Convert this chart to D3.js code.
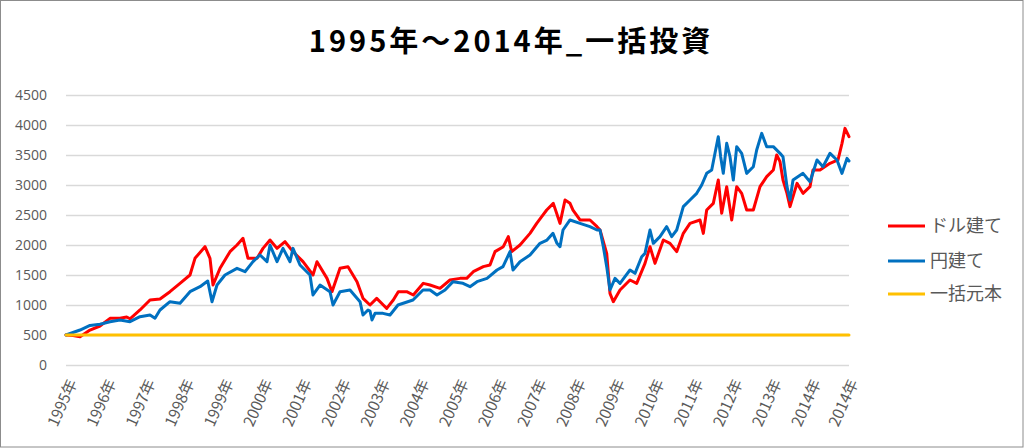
<!DOCTYPE html>
<html><head><meta charset="utf-8">
<script src="https://cdn.jsdelivr.net/npm/d3@7"></script>
<style>
html,body{margin:0;padding:0;background:#fff;}
svg{display:block;}
text{font-family:"Noto Sans CJK JP","Noto Sans",sans-serif;}
</style></head>
<body>
<svg id="chart" width="1024" height="448"></svg>
<script>
// ---- data (years elapsed since Jan 1995, value) ----
const titleText = "1995年～2014年_一括投資";
const seriesNames = ["ドル建て", "円建て", "一括元本"];
const seriesColors = ["#FF0000", "#0070C0", "#FFC000"];
const yTicks = [0, 500, 1000, 1500, 2000, 2500, 3000, 3500, 4000, 4500];
const xTickLabels = ["1995年","1996年","1997年","1998年","1999年","2000年","2001年","2002年","2003年","2004年","2005年","2006年","2007年","2008年","2009年","2010年","2011年","2012年","2013年","2014年","2014年"];
const xTickAt = [0,1,2,3,4,5,6,7,8,9,10,11,12,13,14,15,16,17,18,19,19.95];

const usdT = [0,0.18,0.358,0.613,0.868,1.124,1.379,1.55,1.635,1.89,2.146,2.401,2.656,2.912,3.167,3.295,3.55,3.678,3.755,3.934,4.189,4.368,4.521,4.649,4.879,5.032,5.211,5.39,5.594,5.798,6.054,6.309,6.411,6.667,6.794,6.999,7.203,7.433,7.586,7.765,
  7.936,8.105,8.192,8.36,8.488,8.702,8.871,9.127,9.298,9.553,9.808,10.064,10.235,10.403,10.659,10.83,10.958,11.17,11.298,11.384,11.596,11.852,12.023,12.151,12.278,12.447,12.618,12.746,12.874,
  12.95,13.129,13.384,13.563,13.64,13.811,13.895,13.98,14.151,14.406,14.577,14.789,14.917,15.045,15.257,15.428,15.599,15.768,15.939,16.194,16.279,16.365,16.534,16.661,16.748,16.876,17.004,17.132,17.259,17.387,17.556,17.727,17.898,18.067,18.153,18.238,
  18.314,18.416,18.493,18.672,18.825,19.004,19.08,19.259,19.515,19.719,19.821,19.898,20];
const usdV = [500,490,470,583,650,778,778,800,770,917,1083,1100,1222,1361,1500,1778,1972,1778,1333,1611,1889,2000,2111,1778,1778,1944,2083,1944,2055,1889,1722,1500,1722,1444,1222,1611,1639,1389,1111,1000,
  1111,1000,944,1083,1222,1222,1167,1361,1333,1278,1417,1444,1444,1555,1639,1667,1889,1972,2139,1889,2000,2194,2361,2472,2583,2694,2361,2750,2694,
  2583,2417,2417,2305,2250,1861,1194,1055,1250,1417,1361,1694,1972,1694,2083,2028,1889,2194,2361,2417,2194,2583,2694,3083,2528,2972,2417,2972,2861,2583,2583,2972,3139,3250,3500,3389,
  3083,2861,2639,3028,2861,2972,3250,3250,3361,3417,3694,3944,3805];

const jpyT = [0,0.358,0.613,0.868,1.124,1.379,1.635,1.89,2.146,2.273,2.401,2.656,2.912,3.167,3.423,3.62,3.729,3.857,4.061,4.368,4.572,4.776,4.955,5.134,5.211,5.39,5.543,5.722,5.798,5.977,6.232,6.309,6.488,6.743,6.82,6.999,7.254,7.51,7.586,7.714,7.765,7.816,7.893,
  8.097,8.276,8.48,8.863,9.119,9.298,9.476,9.681,9.885,10.14,10.319,10.498,10.754,11.009,11.162,11.341,11.418,11.596,11.852,12.107,12.286,12.439,12.541,12.618,12.695,12.874,
  13.129,13.384,13.563,13.64,13.725,13.811,13.895,14.023,14.151,14.278,14.406,14.534,14.705,14.789,14.917,15.002,15.172,15.343,15.471,15.599,15.768,15.939,16.11,16.238,16.365,16.493,16.577,16.661,16.722,16.789,16.876,16.96,17.045,17.132,17.259,17.387,17.556,17.642,17.77,17.898,18.067,18.238,
  18.314,18.416,18.493,18.57,18.825,19.004,19.183,19.336,19.515,19.693,19.821,19.949,20];
const jpyV = [500,583,660,680,722,750,722,805,833,780,917,1055,1028,1222,1305,1400,1055,1333,1500,1611,1555,1722,1833,1722,2000,1722,1944,1722,1944,1667,1500,1167,1333,1222,1000,1222,1250,1055,833,917,900,750,861,
  861,833,1000,1083,1250,1250,1167,1250,1389,1361,1305,1389,1444,1583,1639,1889,1583,1722,1833,2028,2083,2194,2028,1972,2250,2417,
  2361,2305,2250,2250,1972,1639,1250,1444,1361,1472,1583,1528,1805,1861,2250,2028,2139,2305,2139,2250,2639,2750,2861,3000,3194,3250,3528,3805,3472,3194,3694,3472,3083,3639,3528,3194,3305,3583,3861,3639,3639,3528,
  3472,2972,2750,3083,3194,3055,3417,3305,3528,3417,3194,3444,3400];

const principalT = [0, 20];
const principalV = [500, 500];

// ---- drawing ----
const svg = d3.select("#chart");
const W = 1024, H = 448;
const plot = {left: 66, right: 849, top: 95, bottom: 365};

svg.append("rect").attr("x", 0.5).attr("y", 0.5).attr("width", W - 1.5).attr("height", H - 1.5)
  .attr("fill", "#fff").attr("stroke", "#8c8c8c").attr("stroke-width", 1);

const x = d3.scaleLinear().domain([0, 20]).range([plot.left, plot.right]);
const y = d3.scaleLinear().domain([0, 4500]).range([plot.bottom, plot.top]);

// gridlines + y axis labels
const yAxis = d3.axisLeft(y).tickValues(yTicks).tickFormat(d3.format("d"))
  .tickSize(-(plot.right - plot.left)).tickPadding(19);
const gy = svg.append("g").attr("transform", `translate(${plot.left},0)`).call(yAxis);
gy.select(".domain").remove();
gy.selectAll(".tick line").attr("stroke", "#d9d9d9").attr("stroke-width", 1.3);
gy.selectAll(".tick text").attr("fill", "#595959").style("font-size", "14px")
  .style("font-family", "'Open Sans','Noto Sans',sans-serif");

// x axis labels (rotated)
const xAxis = d3.axisBottom(x).tickValues(xTickAt).tickSize(0).tickFormat((d, i) => xTickLabels[i]);
const gx = svg.append("g").attr("transform", `translate(0,${plot.bottom})`).call(xAxis);
gx.select(".domain").remove();
gx.selectAll(".tick text")
  .attr("fill", "#595959").style("font-size", "15.5px")
  .attr("text-anchor", "end").attr("dy", "0.35em").attr("y", 0)
  .attr("transform", "translate(6,15) rotate(-66)");

// lines
const line = d3.line().x(d => x(d[0])).y(d => y(d[1]));
const series = [
  d3.zip(usdT, usdV),
  d3.zip(jpyT, jpyV),
  d3.zip(principalT, principalV)
];
series.forEach((s, i) => {
  svg.append("path").datum(s).attr("d", line)
    .attr("fill", "none").attr("stroke", seriesColors[i])
    .attr("stroke-width", 3).attr("stroke-linejoin", "round").attr("stroke-linecap", "round");
});

// title
svg.append("text").attr("x", 511).attr("y", 52).attr("text-anchor", "middle")
  .style("font-size", "29px").style("font-weight", "bold").style("letter-spacing", "3px")
  .attr("fill", "#000").text(titleText);

// legend
const legendY = [226, 261, 294];
seriesNames.forEach((name, i) => {
  const g = svg.append("g").attr("transform", `translate(888,${legendY[i]})`);
  g.append("line").attr("x1", 0).attr("x2", 37).attr("y1", 0).attr("y2", 0)
    .attr("stroke", seriesColors[i]).attr("stroke-width", 3);
  g.append("text").attr("x", 42).attr("y", 0).attr("dy", "0.35em")
    .attr("fill", "#595959").style("font-size", "18px").text(name);
});
</script>
</body></html>
